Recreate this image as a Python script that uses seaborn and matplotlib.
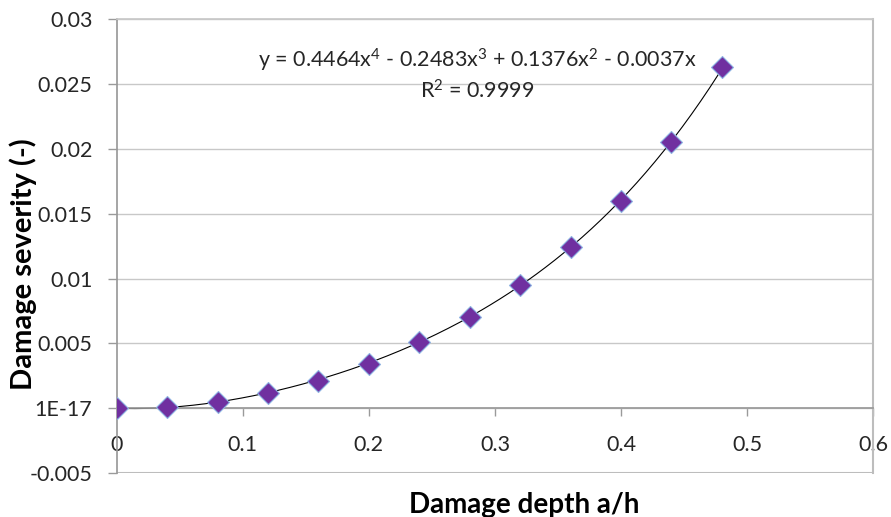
import numpy as np
import pandas as pd
import matplotlib
matplotlib.use('Agg')
import matplotlib.pyplot as plt
import seaborn as sns

depth = [0.0, 0.04, 0.08, 0.12, 0.16, 0.20, 0.24, 0.28, 0.32, 0.36, 0.40, 0.44, 0.48]
severity = [0.0, 0.0001, 0.0005, 0.0012, 0.0021, 0.0034, 0.0051, 0.0070,
            0.0095, 0.0124, 0.0160, 0.0205, 0.0263]

# polynomial trendline as printed on the chart (x^4 .. x^0)
trend_coef = [0.4464, -0.2483, 0.1376, -0.0037, 0.0]
trend_text = (r'y = 0.4464$\mathregular{x^4}$ - 0.2483$\mathregular{x^3}$'
              r' + 0.1376$\mathregular{x^2}$ - 0.0037x')
r2_text = r'$\mathregular{R^2}$ = 0.9999'

x_ticks = [0, 0.1, 0.2, 0.3, 0.4, 0.5, 0.6]
x_tick_labels = ['0', '0.1', '0.2', '0.3', '0.4', '0.5', '0.6']
y_ticks = [-0.005, 0, 0.005, 0.01, 0.015, 0.02, 0.025, 0.03]
y_tick_labels = ['-0.005', '1E-17', '0.005', '0.01', '0.015', '0.02', '0.025', '0.03']

sns.set_theme(style='white')
plt.rcParams['font.family'] = ['Lato', 'Noto Sans', 'DejaVu Sans']

df = pd.DataFrame({'depth': depth, 'severity': severity})

fig, ax = plt.subplots(figsize=(8.91, 5.17), dpi=100)
fig.subplots_adjust(left=0.131, right=0.980, top=0.963, bottom=0.085)

# trendline
xs = np.linspace(min(depth), max(depth), 200)
ax.plot(xs, np.polyval(trend_coef, xs), color='black', linewidth=0.8, zorder=2)

sns.scatterplot(data=df, x='depth', y='severity', marker='D', s=125,
                color='#7030A0', edgecolor='#8EB4E3', linewidth=0.8, ax=ax, zorder=3)

ax.set_xlim(0, 0.6)
ax.set_ylim(-0.005, 0.03)
ax.set_xticks(x_ticks)
ax.set_xticklabels(x_tick_labels)
ax.set_yticks(y_ticks)
ax.set_yticklabels(y_tick_labels)

# horizontal gridlines like excel
ax.yaxis.grid(True, color='#C8C8C8', linewidth=1.0)
ax.xaxis.grid(False)
ax.set_axisbelow(True)

# x axis crosses at y = 0
ax.spines['bottom'].set_position(('data', 0))
ax.spines['bottom'].set_color('#9A9A9A')
ax.spines['left'].set_color('#9A9A9A')
ax.spines['right'].set_color('#BDBDBD')
ax.spines['right'].set_linewidth(1.5)
ax.spines['top'].set_color('#C8C8C8')
ax.axhline(-0.005, color='#BDBDBD', linewidth=1.5, zorder=1)

ax.tick_params(axis='x', direction='out', length=6, width=1, color='#9A9A9A',
               pad=13, labelsize=15.5, labelcolor='#262626', bottom=True)
ax.tick_params(axis='y', direction='out', length=6.5, width=1, color='#9A9A9A',
               pad=11, labelsize=15.5, labelcolor='#262626', left=True)

ax.set_xlabel('Damage depth a/h', fontsize=20, fontweight='bold', color='black')
ax.set_ylabel('Damage severity (-)', fontsize=21, fontweight='bold', color='black')
ax.xaxis.set_label_coords(0.538, -0.088)
ax.xaxis.label.set_va('baseline')
ax.yaxis.set_label_coords(-0.123, 0.46)
ax.yaxis.label.set_va('center')

ax.text(0.2857, 0.02629, trend_text, ha='center', va='baseline', fontsize=15.5, color='#262626')
ax.text(0.2857, 0.0239, r2_text, ha='center', va='baseline', fontsize=15.5, color='#262626')

plt.savefig('out.png', dpi=100)
